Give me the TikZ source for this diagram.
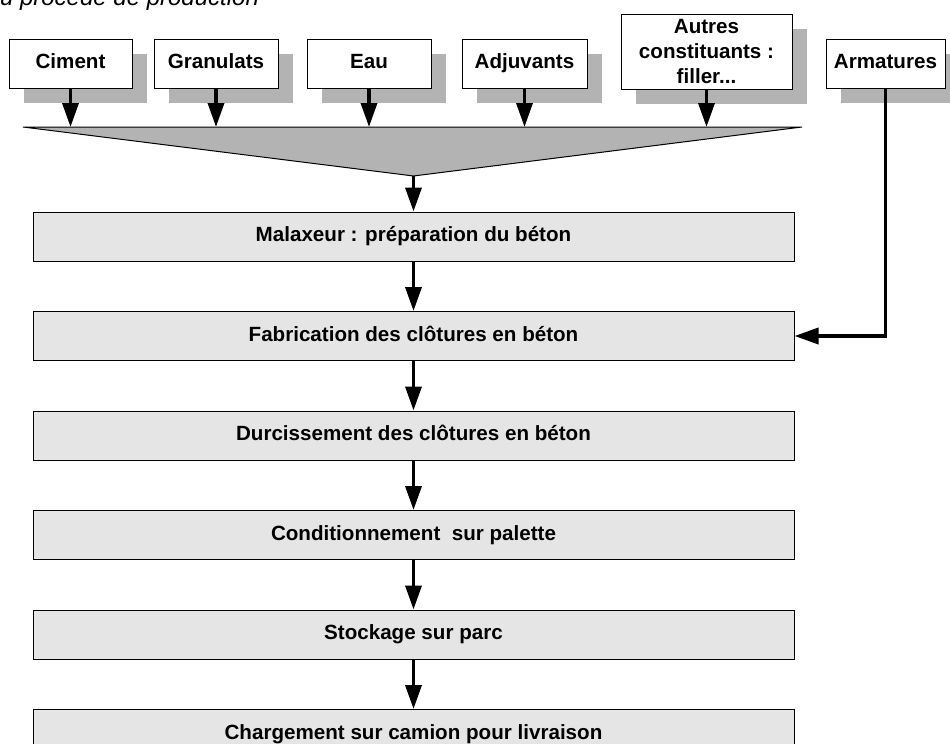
\documentclass[tikz,border=0pt]{standalone}
\usepackage{fontspec}
\setmainfont{Liberation Sans}
\usepackage{tikz}
\usetikzlibrary{arrows.meta,shadows,positioning}
\definecolor{boxgrey}{HTML}{E5E5E5}
\definecolor{shadowgrey}{HTML}{B3B3B3}

\begin{document}
\begin{tikzpicture}[
			x=0.5pt, y=-0.5pt,
			every node/.style={font=\fontsize{10.3}{12.5}\selectfont\bfseries},
			input/.style={draw, fill=white, line width=0.5pt, inner sep=0pt, minimum height=24.5pt, align=center,
				drop shadow={shadow xshift=7.5pt, shadow yshift=-7.5pt, fill=shadowgrey, opacity=1}},
			onerow/.style={text height=7.5pt, text depth=2.2pt},
			stage/.style={draw, fill=boxgrey, line width=0.5pt, inner sep=0pt, minimum width=380.5pt, minimum height=24.5pt,
				text height=7.5pt, text depth=2.2pt},
			flow/.style={line width=1.75pt, -{Triangle[length=12pt,width=8pt]}},
			node distance=24.75pt
			]
			\def\yin{63.5}
			\def\xs{413.5}

			\useasboundingbox (0,0) rectangle (950,744);

			\node[anchor=base east, font=\fontsize{12}{14}\selectfont\itshape] (titre) at (266,5) {du proc\'ed\'e de production};

			\node[input, onerow, minimum width=61.5pt] (ciment) at (70.5,\yin) {Ciment};
			\node[input, onerow, minimum width=62pt] (granulats) at (216,\yin) {Granulats};
			\node[input, onerow, minimum width=62pt] (eau) at (369,\yin) {Eau};
			\node[input, onerow, minimum width=62.5pt] (adjuvants) at (524.5,\yin) {Adjuvants};
			\node[input, minimum width=85.5pt, minimum height=37.5pt] (autres) at (706.5,51.5) {Autres\\constituants :\\filler...};
			\node[input, onerow, minimum width=59.5pt] (armatures) at (885.5,\yin) {Armatures};

			\coordinate (fleft) at (23,127);
			\coordinate (fright) at (802,127);
			\coordinate (apex) at (\xs,176);
			\draw[fill=shadowgrey, line width=0.5pt] (fleft) -- (fright) -- (apex) -- cycle;

			\foreach \n in {ciment,granulats,eau,adjuvants,autres}
				\draw[flow] (\n.south) -- (\n.south |- fleft);

			\node[stage] (malaxeur) at (\xs,236.5) {Malaxeur : pr\'eparation du b\'eton};
			\node[stage, below=of malaxeur] (fabrication) {Fabrication des cl\^otures en b\'eton};
			\node[stage, below=of fabrication] (durcissement) {Durcissement des cl\^otures en b\'eton};
			\node[stage, below=of durcissement] (conditionnement) {Conditionnement \ sur palette};
			\node[stage, below=of conditionnement] (stockage) {Stockage sur parc};
			\node[stage, below=of stockage] (chargement) {Chargement sur camion pour livraison};

			\draw[flow] (apex) -- (malaxeur.north);
			\draw[flow] (malaxeur.south) -- (fabrication.north);
			\draw[flow] (fabrication.south) -- (durcissement.north);
			\draw[flow] (durcissement.south) -- (conditionnement.north);
			\draw[flow] (conditionnement.south) -- (stockage.north);
			\draw[flow] (stockage.south) -- (chargement.north);
			\draw[flow] (armatures.south) |- (fabrication.east);

\end{tikzpicture}
\end{document}
